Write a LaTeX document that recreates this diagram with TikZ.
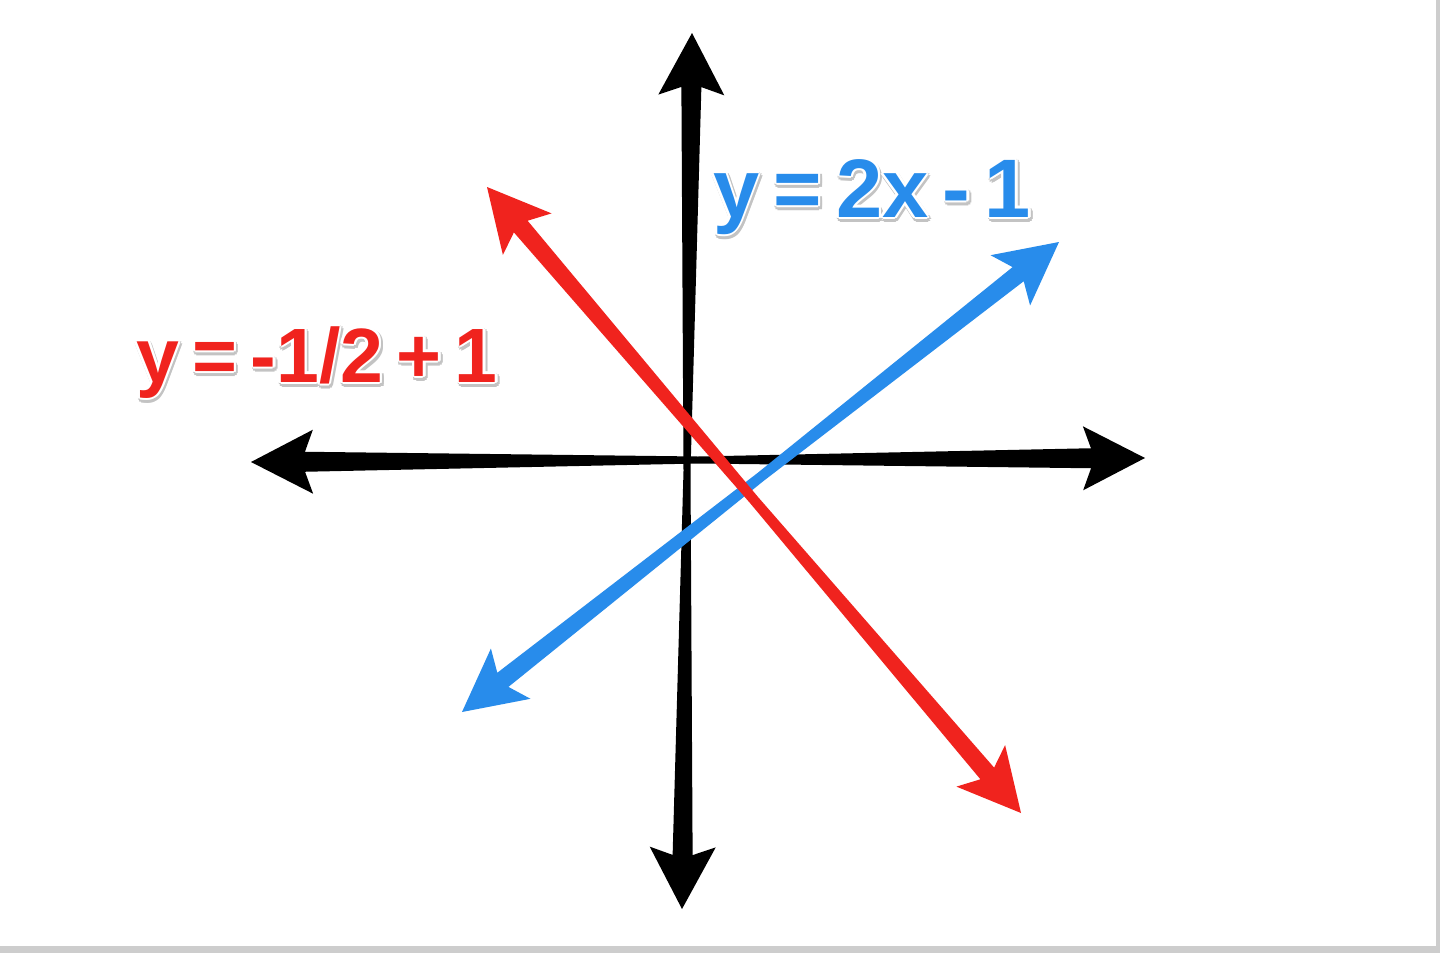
\documentclass[tikz,border=0pt]{standalone}
\usepackage{fontspec}
\usetikzlibrary{calc}
\newfontfamily\lblfont[WordSpace=0.5]{Liberation Sans}
\newfontfamily\lblfontw[WordSpace=0.62]{Liberation Sans}
\definecolor{lnred}{RGB}{240,35,30}
\definecolor{lnblue}{RGB}{40,140,235}
\definecolor{shade}{RGB}{195,195,195}
\definecolor{frame}{RGB}{205,205,205}

\newcommand\cpy[3]{\makebox[0pt][l]{\hspace*{#1}\raisebox{#2}{#3}}}
\newcommand\glowtext[1]{%
 \cpy{4.5pt}{-2.5pt}{\color{shade}#1}\cpy{-1.5pt}{-2.5pt}{\color{shade}#1}%
 \cpy{1.5pt}{0.5pt}{\color{shade}#1}\cpy{1.5pt}{-5.5pt}{\color{shade}#1}%
 \cpy{3.6pt}{-0.4pt}{\color{shade}#1}\cpy{-0.6pt}{-0.4pt}{\color{shade}#1}%
 \cpy{3.6pt}{-4.6pt}{\color{shade}#1}\cpy{-0.6pt}{-4.6pt}{\color{shade}#1}%
 \cpy{2.5pt}{0pt}{\color{white}#1}\cpy{-2.5pt}{0pt}{\color{white}#1}%
 \cpy{0pt}{2.5pt}{\color{white}#1}\cpy{0pt}{-2.5pt}{\color{white}#1}%
 \cpy{1.8pt}{1.8pt}{\color{white}#1}\cpy{-1.8pt}{1.8pt}{\color{white}#1}%
 \cpy{1.8pt}{-1.8pt}{\color{white}#1}\cpy{-1.8pt}{-1.8pt}{\color{white}#1}%
 #1}

% #1 start, #2 end, #3 colour, #4 head length, #5 head half width,
% #6 notch distance, #7 half width at notch, #8 half width at middle
\newcommand\tapArrow[8]{%
 \coordinate (#1h) at ($(#1)!#4!(#2)$);
 \coordinate (#1n) at ($(#1)!#6!(#2)$);
 \coordinate (#2h) at ($(#2)!#4!(#1)$);
 \coordinate (#2n) at ($(#2)!#6!(#1)$);
 \coordinate (#1m) at ($(#1)!0.5!(#2)$);
 \fill[#3] (#1) -- ($(#1h)!#5!90:(#2)$) -- ($(#1n)!#7!90:(#2)$)
   -- ($(#1m)!#8!90:(#2)$) -- ($(#2n)!#7!-90:(#1)$) -- ($(#2h)!#5!-90:(#1)$)
   -- (#2) -- ($(#2h)!#5!90:(#1)$) -- ($(#2n)!#7!90:(#1)$)
   -- ($(#1m)!#8!-90:(#2)$) -- ($(#1n)!#7!-90:(#2)$) -- ($(#1h)!#5!-90:(#2)$)
   -- cycle;
}

\tikzset{
  lbl/.style={inner sep=0pt, anchor=base},
}

\begin{document}
\begin{tikzpicture}[x=1pt,y=-1pt]
\useasboundingbox (0,0) rectangle (1440,953);
\fill[white] (0,0) rectangle (1440,953);
\fill[frame] (0,946) rectangle (1440,953);
\fill[frame] (1436,0) rectangle (1440,953);

% axes
\coordinate (vt) at (692,33);
\coordinate (vb) at (682,909);
\coordinate (hl) at (251,462);
\coordinate (hr) at (1145,458);
% lines
\coordinate (bt) at (1059,242);
\coordinate (bb) at (462,712);
\coordinate (rt) at (487,187);
\coordinate (rb) at (1021,813);

\tapArrow{vt}{vb}{black}{62pt}{33pt}{54pt}{10pt}{3.5pt}
\tapArrow{hl}{hr}{black}{62pt}{32pt}{54pt}{10pt}{3.5pt}
\tapArrow{bt}{bb}{lnblue}{62pt}{32pt}{52pt}{9pt}{5pt}
\tapArrow{rt}{rb}{lnred}{62pt}{32pt}{52pt}{9pt}{5pt}

\node[lbl, text=lnred, font={\lblfontw\bfseries\fontsize{77}{80}\selectfont}]
  (redlbl) at (317,382) {\glowtext{y = -1/2 + 1}};
\node[lbl, text=lnblue, font={\lblfont\bfseries\fontsize{83}{86}\selectfont}]
  (bluelbl) at (872,217) {\glowtext{y = 2x - 1}};
\end{tikzpicture}
\end{document}
